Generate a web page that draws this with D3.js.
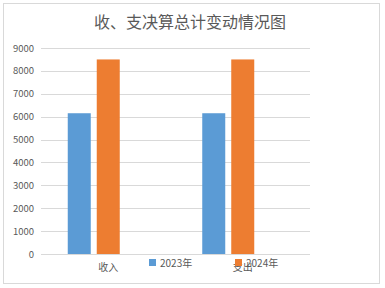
<!DOCTYPE html>
<html>
<head>
<meta charset="utf-8">
<script src="https://cdn.jsdelivr.net/npm/d3@7"></script>
<style>
  body { margin: 0; background: #fff; }
  text { font-family: "Noto Sans CJK SC", "DejaVu Sans", sans-serif; fill: #595959; }
</style>
</head>
<body>
<script>
// chart data
var categories = ["收入", "支出"];
var seriesNames = ["2023年", "2024年", ""];
var values2023 = [6150, 6150];
var values2024 = [8500, 8500];
var values3 = [null, null];
var yTicks = [0, 1000, 2000, 3000, 4000, 5000, 6000, 7000, 8000, 9000];
var colors = ["#5b9bd5", "#ed7d31", "#a5a5a5"];

var width = 385, height = 288;
var svg = d3.select("body").append("svg").attr("width", width).attr("height", height);

svg.append("rect")
    .attr("x", 3.5).attr("y", 3.5)
    .attr("width", 376).attr("height", 280)
    .attr("fill", "white")
    .attr("stroke", "#d9d9d9");

svg.append("text")
    .attr("x", 190).attr("y", 28)
    .attr("text-anchor", "middle")
    .style("font-size", "16px")
    .text("收、支决算总计变动情况图");

var plot = { left: 41, right: 310, top: 48, bottom: 254 };

var y = d3.scaleLinear().domain([0, 9000]).range([plot.bottom, plot.top]);
var x0 = d3.scaleBand().domain(categories).range([plot.left, plot.right]).padding(0);
var outer = (x0.bandwidth() - 81) / 2;
var x1 = d3.scaleBand().domain(d3.range(seriesNames.length))
    .range([outer, x0.bandwidth() - outer])
    .paddingInner(6 / 29).paddingOuter(0);

// gridlines
svg.append("g").selectAll("line")
    .data(yTicks)
    .enter().append("line")
    .attr("x1", plot.left).attr("x2", plot.right)
    .attr("y1", (d) => Math.round(y(d)) + 0.5)
    .attr("y2", (d) => Math.round(y(d)) + 0.5)
    .attr("stroke", "#d9d9d9");

// tick labels
svg.append("g").selectAll("text")
    .data(yTicks)
    .enter().append("text")
    .attr("x", 34)
    .attr("y", (d) => y(d) + 3.5)
    .attr("text-anchor", "end")
    .style("font-size", "9.5px")
    .text((d) => d);

var series = [values2023, values2024, values3];
var rows = [];
series.forEach(function (vals, s) {
    vals.forEach(function (v, i) {
        if (v != null) rows.push({ cat: categories[i], s: s, v: v });
    });
});

svg.append("g").selectAll("rect")
    .data(rows)
    .enter().append("rect")
    .attr("x", (d) => x0(d.cat) + x1(d.s))
    .attr("width", x1.bandwidth())
    .attr("y", (d) => y(d.v))
    .attr("height", (d) => y(0) - y(d.v))
    .attr("fill", (d) => colors[d.s]);

// category labels
svg.append("g").selectAll("text")
    .data(categories)
    .enter().append("text")
    .attr("x", (d) => x0(d) + x0.bandwidth() / 2)
    .attr("y", 271)
    .attr("text-anchor", "middle")
    .style("font-size", "10px")
    .text((d) => d);

// legend
var legendX = [149, 235];
var legend = svg.append("g").selectAll("g")
    .data(seriesNames.slice(0, 2))
    .enter().append("g")
    .attr("transform", (d, i) => "translate(" + legendX[i] + ",259)");
legend.append("rect")
    .attr("width", 7).attr("height", 7)
    .attr("fill", (d, i) => colors[i]);
legend.append("text")
    .attr("x", 11).attr("y", 7.5)
    .style("font-size", "10px")
    .text((d) => d);
</script>
</body>
</html>
